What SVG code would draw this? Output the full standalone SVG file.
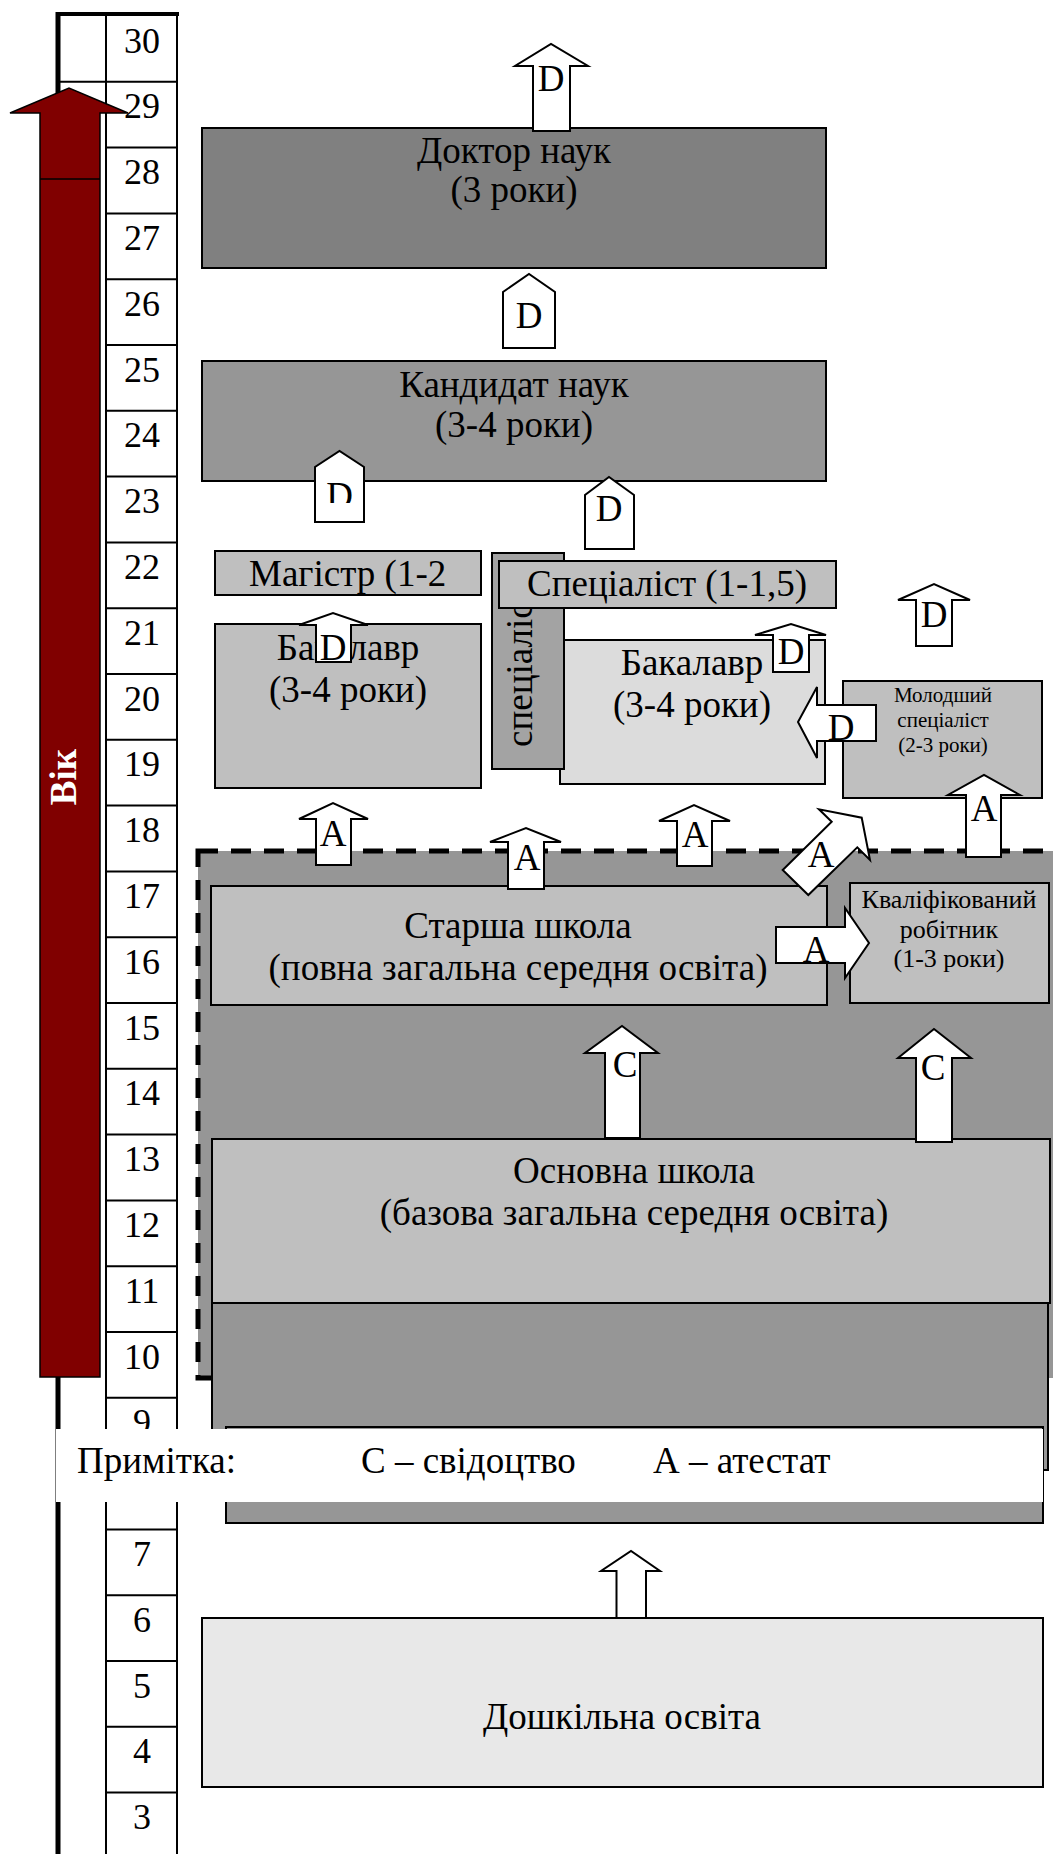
<svg xmlns="http://www.w3.org/2000/svg" width="1053" height="1854" viewBox="0 0 1053 1854" font-family="'Liberation Serif', 'Times New Roman', serif">
<style>
.bx{stroke:#000;stroke-width:2}
.t{font-family:"Liberation Serif","Times New Roman",serif;font-size:37px;fill:#000;text-anchor:middle}
.n{font-size:36px}
.sm{font-size:21px}
.md{font-size:26px}
.ar{fill:#fff;stroke:#000;stroke-width:2}
.ln{stroke:#000;stroke-width:2;fill:none}
</style>
<defs>
<clipPath id="clipD"><rect x="310" y="440" width="60" height="63"/></clipPath>
</defs>
<rect width="1053" height="1854" fill="#fff"/>

<g id="age-scale">
<line x1="58" y1="12" x2="58" y2="1854" stroke="#000" stroke-width="5"/>
<line x1="56" y1="14" x2="179" y2="14" stroke="#000" stroke-width="4"/>
<line x1="106" y1="14" x2="106" y2="1854" class="ln"/>
<line x1="177" y1="14" x2="177" y2="1854" class="ln"/>
<path class="ln" d="M58,81.8H106 M106,81.8H177 M106,147.6H177 M106,213.4H177 M106,279.2H177 M106,345H177 M106,410.8H177 M106,476.6H177 M106,542.4H177 M106,608.2H177 M106,674H177 M106,739.8H177 M106,805.6H177 M106,871.4H177 M106,937.2H177 M106,1003H177 M106,1068.8H177 M106,1134.6H177 M106,1200.4H177 M106,1266.2H177 M106,1332H177 M106,1397.8H177 M106,1463.6H177 M106,1529.4H177 M106,1595.2H177 M106,1661H177 M106,1726.8H177 M106,1792.6H177"/>
</g>

<g id="age-arrow">
<polygon points="40,1377 40,113 10,113 69,88 128,113 100,113 100,1377" fill="#800000" stroke="#000" stroke-width="1.5"/>
<line x1="40" y1="179" x2="100" y2="179" stroke="#000" stroke-width="1.5"/>
<text class="t" transform="translate(76,777) rotate(-90)" style="fill:#fff;font-weight:bold">Вік</text>
</g>

<g id="age-numbers" class="t n">
<text x="142" y="52.5">30</text>
<text x="142" y="118.3">29</text>
<text x="142" y="184.1">28</text>
<text x="142" y="249.9">27</text>
<text x="142" y="315.7">26</text>
<text x="142" y="381.5">25</text>
<text x="142" y="447.3">24</text>
<text x="142" y="513.1">23</text>
<text x="142" y="578.9">22</text>
<text x="142" y="644.7">21</text>
<text x="142" y="710.5">20</text>
<text x="142" y="776.3">19</text>
<text x="142" y="842.1">18</text>
<text x="142" y="907.9">17</text>
<text x="142" y="973.7">16</text>
<text x="142" y="1039.5">15</text>
<text x="142" y="1105.3">14</text>
<text x="142" y="1171.1">13</text>
<text x="142" y="1236.9">12</text>
<text x="142" y="1302.7">11</text>
<text x="142" y="1368.5">10</text>
<text x="142" y="1434.3">9</text>
<text x="142" y="1565.9">7</text>
<text x="142" y="1631.7">6</text>
<text x="142" y="1697.5">5</text>
<text x="142" y="1763.3">4</text>
<text x="142" y="1829.1">3</text>
</g>

<g id="doktor">
<rect class="bx" x="202" y="128" width="624" height="140" fill="#808080"/>
<text class="t" x="514" y="163">Доктор наук</text>
<text class="t" x="514" y="202">(3 роки)</text>
</g>

<g id="kandydat">
<rect class="bx" x="202" y="361" width="624" height="120" fill="#969696"/>
<text class="t" x="514" y="397">Кандидат наук</text>
<text class="t" x="514" y="437">(3-4 роки)</text>
</g>

<g id="mahistr">
<rect class="bx" x="215" y="551" width="266" height="44" fill="#bfbfbf"/>
<text class="t" x="249" y="586" style="text-anchor:start">Магістр (1-2</text>
</g>

<g id="bakalavr-1">
<rect class="bx" x="215" y="624" width="266" height="164" fill="#bfbfbf"/>
<text class="t" x="348" y="660">Бакалавр</text>
<text class="t" x="348" y="702">(3-4 роки)</text>
</g>

<g id="bakalavr-2">
<rect class="bx" x="560" y="640" width="265" height="144" fill="#dcdcdc"/>
<text class="t" x="692" y="675">Бакалавр</text>
<text class="t" x="692" y="717">(3-4 роки)</text>
</g>

<g id="spetsialist-vertical">
<rect class="bx" x="492" y="553" width="72" height="216" fill="#a3a3a3"/>
<text class="t" transform="translate(532,747) rotate(-90)" style="text-anchor:start">спеціаліст</text>
</g>

<g id="spetsialist">
<rect class="bx" x="499" y="561" width="337" height="47" fill="#bfbfbf"/>
<text class="t" x="667" y="596">Спеціаліст (1-1,5)</text>
</g>

<g id="molodshyi">
<rect class="bx" x="843" y="681" width="199" height="117" fill="#bfbfbf"/>
<text class="t sm" x="943" y="702">Молодший</text>
<text class="t sm" x="943" y="727">спеціаліст</text>
<text class="t sm" x="943" y="752">(2-3 роки)</text>
</g>

<g id="secondary-region">
<rect x="198" y="851" width="900" height="527" fill="#969696" stroke="#000" stroke-width="5" stroke-dasharray="20 13"/>
</g>

<g id="starsha">
<rect class="bx" x="211" y="886" width="616" height="119" fill="#bfbfbf"/>
<text class="t" x="518" y="938">Старша школа</text>
<text class="t" x="518" y="980">(повна загальна середня освіта)</text>
</g>

<g id="kvalifikovanyi">
<rect class="bx" x="850" y="883" width="199" height="120" fill="#bfbfbf"/>
<text class="t md" x="949" y="908">Кваліфікований</text>
<text class="t md" x="949" y="938">робітник</text>
<text class="t md" x="949" y="967">(1-3 роки)</text>
</g>

<g id="osnovna">
<rect class="bx" x="212" y="1139" width="838" height="164" fill="#bfbfbf"/>
<text class="t" x="634" y="1183">Основна школа</text>
<text class="t" x="634" y="1225">(базова загальна середня освіта)</text>
</g>

<g id="pochatkova">
<rect class="bx" x="212" y="1303" width="836" height="167" fill="#969696"/>
<rect class="bx" x="226" y="1427" width="817" height="96" fill="#969696"/>
</g>

<g id="connectors">
<path class="ar" d="M533,131V66H515L551,44L588,66H570V131Z"/>
<text class="t" x="551" y="91">D</text>
<path class="ar" d="M503,348V292L529,274L555,292V348Z"/>
<text class="t" x="529" y="328">D</text>
<path class="ar" d="M315,522V467L339.5,451L364,467V522Z"/>
<text class="t" x="339.5" y="508" clip-path="url(#clipD)">D</text>
<path class="ar" d="M585,549V495L609,477L634,495V549Z"/>
<text class="t" x="609" y="521">D</text>
<path class="ar" d="M316,662V625H299L333,613L368,625H351V662Z"/>
<text class="t" x="333" y="660">D</text>
<path class="ar" d="M773,672V635H755L791,624L826,635H809V672Z"/>
<text class="t" x="791" y="664">D</text>
<path class="ar" d="M916,646V600H898L934,584L970,600H952V646Z"/>
<text class="t" x="934" y="627">D</text>
<path class="ar" d="M876,705H817V687L798,722L817,758V741H876Z"/>
<text class="t" x="841" y="740">D</text>
<path class="ar" d="M966,857V795H948L984,775L1020,795H1001V857Z"/>
<text class="t" x="984" y="821">A</text>
<path class="ar" d="M316,865V819H299L333,803L368,819H351V865Z"/>
<text class="t" x="333" y="846">A</text>
<path class="ar" d="M508,889V842H490L526,828L561,842H544V889Z"/>
<text class="t" x="527" y="870">A</text>
<path class="ar" d="M677,866V821H659L694,805L730,821H712V866Z"/>
<text class="t" x="695" y="847">A</text>
<path class="ar" d="M782.7,870L831.7,821.7L819,809.3L861.7,817.7L870,860L857.3,847.3L808.3,895Z"/>
<text class="t" x="821" y="867">A</text>
<path class="ar" d="M776,927H845V908L869,943L845,978V963H776Z"/>
<text class="t" x="816" y="962">A</text>
<path class="ar" d="M605,1138V1053H585L622,1026L658,1053H640V1138Z"/>
<text class="t" x="625" y="1077">C</text>
<path class="ar" d="M916,1142V1058H898L934,1029L971,1058H952V1142Z"/>
<text class="t" x="933" y="1080">C</text>
<path class="ar" d="M616.5,1629V1571H601L631,1551L660,1571H646V1629Z"/>
</g>

<g id="note">
<rect x="56" y="1429" width="987" height="73" fill="#fff"/>
<text class="t" y="1473" style="text-anchor:start"><tspan x="77">Примітка:</tspan><tspan x="361">С – свідоцтво</tspan><tspan x="653">А – атестат</tspan></text>
</g>

<g id="doshkilna">
<rect class="bx" x="202" y="1618" width="841" height="169" fill="#e8e8e8"/>
<text class="t" x="622" y="1729">Дошкільна освіта</text>
</g>
</svg>
